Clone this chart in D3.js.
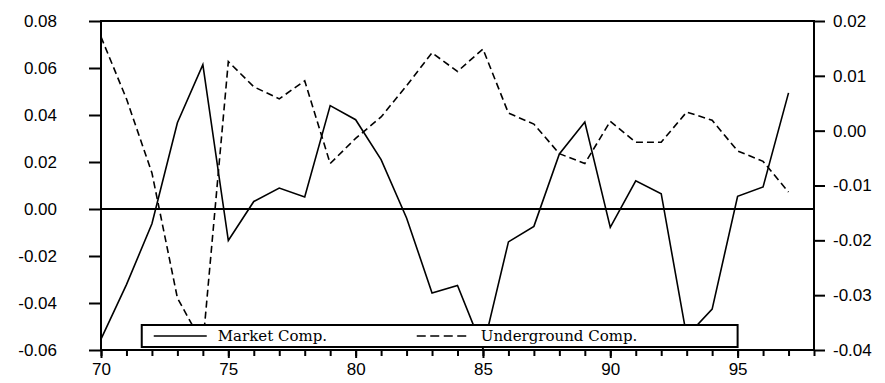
<!DOCTYPE html>
<html lang="en">
<head>
<meta charset="UTF-8">
<title>Market and Underground Components</title>
<style>
  body { margin: 0; background: #fff; }
  svg text { fill: #000; }
  .axis text { font: 17px "Liberation Sans", Arial, sans-serif; }
  .axis line { stroke: #000; stroke-width: 2; }
  .axis path { display: none; }
  .legend text { font: 15px "DejaVu Serif", serif; }
</style>
</head>
<body>
<svg></svg>
<script src="https://d3js.org/d3.v7.min.js"></script>
<script>
// values
var years = [70, 71, 72, 73, 74, 75, 76, 77, 78, 79, 80, 81, 82, 83, 84, 85, 86, 87, 88, 89, 90, 91, 92, 93, 94, 95, 96, 97];
var market = [-0.0554, -0.0322, -0.0063, 0.0367, 0.0614, -0.0134, 0.0032, 0.0089, 0.0051, 0.0440, 0.0380, 0.0210,
              -0.0038, -0.0357, -0.0325, -0.0595, -0.0140, -0.0074, 0.0234, 0.0370, -0.0078, 0.0120, 0.0065, -0.0542,
              -0.0426, 0.0054, 0.0094, 0.0494];
var underground = [0.0171, 0.0058, -0.0077, -0.0305, -0.0390, 0.0126, 0.0080, 0.0058, 0.0091, -0.0060, -0.0014, 0.0025,
                   0.0082, 0.0142, 0.0108, 0.0149, 0.0032, 0.0012, -0.0042, -0.0060, 0.0017, -0.0021, -0.0021, 0.0034,
                   0.0019, -0.0037, -0.0056, -0.0112];
var leftTicks = [0.08, 0.06, 0.04, 0.02, 0.00, -0.02, -0.04, -0.06];
var rightTicks = [0.02, 0.01, 0.00, -0.01, -0.02, -0.03, -0.04];
var xMinor = d3.range(70, 99);
var xLabels = [70, 75, 80, 85, 90, 95];
var seriesNames = ["Market Comp.", "Underground Comp."];

var svgWidth = 885, svgHeight = 383;
var margin = { top: 21, right: 71, bottom: 33, left: 101 };
var width = svgWidth - margin.left - margin.right;
var height = svgHeight - margin.top - margin.bottom;

var svg = d3.select("svg").attr("width", svgWidth).attr("height", svgHeight);
var g = svg.append("g").attr("transform", "translate(" + margin.left + "," + margin.top + ")");

var x = d3.scaleLinear().domain([70, 98]).range([0, width]);
var yL = d3.scaleLinear().domain([-0.06, 0.08]).range([height, 0]);
var yR = d3.scaleLinear().domain([-0.04, 0.02]).range([height, 0]);
var fmt = function(d) { return d.toFixed(2); };

// axes
g.append("g").attr("class", "axis")
  .call(d3.axisLeft(yL).tickValues(leftTicks).tickSize(12).tickPadding(32).tickFormat(fmt));

g.append("g").attr("class", "axis")
  .attr("transform", "translate(" + width + ",0)")
  .call(d3.axisRight(yR).tickValues(rightTicks).tickSize(11).tickPadding(8).tickFormat(fmt))
  .selectAll("text").attr("text-anchor", "start");

g.append("g").attr("class", "axis")
  .attr("transform", "translate(0," + height + ")")
  .call(d3.axisBottom(x).tickValues(xMinor).tickSize(6).tickFormat(""));

g.append("g").attr("class", "axis")
  .attr("transform", "translate(0," + height + ")")
  .call(d3.axisBottom(x).tickValues(xLabels).tickSize(8).tickPadding(5).tickFormat(d3.format("d")));

// frame and zero line
g.append("rect")
  .attr("width", width).attr("height", height)
  .attr("fill", "none").attr("stroke", "#000").attr("stroke-width", 2);

g.append("line")
  .attr("x1", 0).attr("x2", width)
  .attr("y1", yL(0)).attr("y2", yL(0))
  .attr("stroke", "#000").attr("stroke-width", 2);

// series
var idx = d3.range(years.length);

var lineL = d3.line()
  .x(function(i) { return x(years[i]); })
  .y(function(i) { return yL(market[i]); });

var lineR = d3.line()
  .x(function(i) { return x(years[i]); })
  .y(function(i) { return yR(underground[i]); });

g.append("path")
  .datum(idx)
  .attr("fill", "none").attr("stroke", "#000")
  .attr("stroke-width", 1.6).attr("stroke-linejoin", "miter")
  .attr("d", lineL);

g.append("path")
  .datum(idx)
  .attr("fill", "none").attr("stroke", "#000")
  .attr("stroke-width", 1.6).attr("stroke-dasharray", "7,4")
  .attr("d", lineR);

// legend
var lg = g.append("g").attr("class", "legend")
  .attr("transform", "translate(" + (x(71.6)) + "," + (height - 25) + ")");

lg.append("rect")
  .attr("width", x(95) - x(71.6)).attr("height", 22)
  .attr("fill", "#fff").attr("stroke", "#000").attr("stroke-width", 2);

lg.append("line")
  .attr("x1", 12).attr("x2", 65).attr("y1", 11).attr("y2", 11)
  .attr("stroke", "#000").attr("stroke-width", 1.6);
lg.append("text").attr("x", 76).attr("y", 16).text(seriesNames[0]);

lg.append("line")
  .attr("x1", 275).attr("x2", 325).attr("y1", 11).attr("y2", 11)
  .attr("stroke", "#000").attr("stroke-width", 1.6).attr("stroke-dasharray", "9,4.5");
lg.append("text").attr("x", 339).attr("y", 16).text(seriesNames[1]);
</script>
</body>
</html>
